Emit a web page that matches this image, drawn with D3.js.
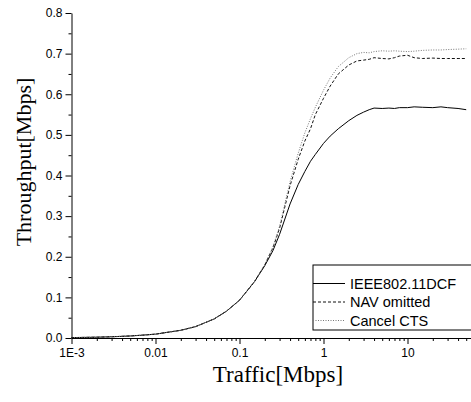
<!DOCTYPE html>
<html>
<head>
<meta charset="utf-8">
<script src="https://cdn.jsdelivr.net/npm/d3@7"></script>
<style>
body { margin: 0; background: #fff; }
svg { display: block; }
</style>
</head>
<body>
<svg width="471" height="402"></svg>
<script>
// offered traffic [Mbps]
var traffic = [0.001, 0.002, 0.003, 0.005, 0.007, 0.01, 0.02, 0.03, 0.05, 0.07, 0.1, 0.15, 0.2, 0.25,
	0.3, 0.4, 0.5, 0.6, 0.7, 0.8, 1.0, 1.2, 1.5, 2, 2.5, 3, 3.5, 4, 5, 6, 7, 8, 10, 12, 15, 20, 25, 30, 40, 50];

var dcf = [0.001, 0.002, 0.003, 0.005, 0.007, 0.0095, 0.019, 0.028, 0.047, 0.066, 0.093, 0.138, 0.178, 0.215,
	0.255, 0.33, 0.378, 0.41, 0.435, 0.452, 0.479, 0.497, 0.515, 0.535, 0.548, 0.556, 0.562, 0.566, 0.565, 0.566,
	0.565, 0.567, 0.567, 0.569, 0.568, 0.567, 0.569, 0.567, 0.565, 0.562];

var navOmitted = [0.001, 0.002, 0.003, 0.005, 0.007, 0.0095, 0.019, 0.028, 0.047, 0.066, 0.093, 0.138, 0.18, 0.222,
	0.27, 0.375, 0.44, 0.485, 0.515, 0.55, 0.59, 0.62, 0.65, 0.672, 0.682, 0.684, 0.686, 0.69, 0.688, 0.687,
	0.69, 0.694, 0.696, 0.69, 0.688, 0.689, 0.688, 0.688, 0.688, 0.688];

var cancelCts = [0.001, 0.002, 0.003, 0.005, 0.007, 0.0095, 0.019, 0.028, 0.047, 0.066, 0.093, 0.138, 0.181, 0.224,
	0.275, 0.385, 0.455, 0.505, 0.54, 0.568, 0.61, 0.64, 0.668, 0.69, 0.7, 0.703, 0.702, 0.705, 0.707, 0.706,
	0.707, 0.706, 0.705, 0.706, 0.708, 0.709, 0.709, 0.71, 0.711, 0.712];

var seriesNames = ["IEEE802.11DCF", "NAV omitted", "Cancel CTS"];
var xTickValues = [0.001, 0.01, 0.1, 1, 10];
var xTickLabels = ["1E-3", "0.01", "0.1", "1", "10"];

var svg = d3.select("svg");

var x = d3.scaleLog()
	.domain([0.001, 100])
	.range([71.5, 491.5]);

var y = d3.scaleLinear()
	.domain([0, 0.8])
	.range([338, 13]);

var styles = [
	{ stroke: "#000", dash: null },
	{ stroke: "#111", dash: "3,2" },
	{ stroke: "#777", dash: "1,1.5" }
];

var series = [dcf, navOmitted, cancelCts];

var line = d3.line()
	.x(function(d) { return x(d[0]); })
	.y(function(d) { return y(d[1]); });

series.forEach(function(s, i) {
	svg.append("path")
		.datum(traffic.map(function(t, j) { return [t, s[j]]; }))
		.attr("fill", "none")
		.attr("stroke", styles[i].stroke)
		.attr("stroke-width", 1)
		.attr("stroke-dasharray", styles[i].dash)
		.attr("d", line);
});

// minor ticks
var xMinor = [];
for (var e = -3; e <= 1; e++) {
	for (var k = 2; k <= 9; k++) xMinor.push(k * Math.pow(10, e));
}
svg.append("g")
	.attr("transform", "translate(0,338)")
	.call(d3.axisBottom(x).tickValues(xMinor).tickSize(3).tickFormat(""))
	.call(function(g) { g.select(".domain").remove(); });

svg.append("g")
	.attr("transform", "translate(71.5,0)")
	.call(d3.axisLeft(y).tickValues(d3.range(0.05, 0.8, 0.1)).tickSize(3).tickFormat(""))
	.call(function(g) { g.select(".domain").remove(); });

// major axes
var xAxis = svg.append("g")
	.attr("transform", "translate(0,338)")
	.call(d3.axisBottom(x).tickValues(xTickValues).tickSize(6).tickSizeOuter(0).tickPadding(4)
		.tickFormat(function(d, i) { return xTickLabels[i]; }));

var yAxis = svg.append("g")
	.attr("transform", "translate(71.5,0)")
	.call(d3.axisLeft(y).ticks(8).tickSize(6).tickSizeOuter(0).tickPadding(3).tickFormat(d3.format(".1f")));

[xAxis, yAxis].forEach(function(g) {
	g.attr("font-family", "'Liberation Sans', Arial, sans-serif").attr("font-size", 12);
});

// axis titles
svg.append("text")
	.attr("x", 278)
	.attr("y", 382)
	.attr("text-anchor", "middle")
	.style("font-family", "'Liberation Serif', 'Times New Roman', serif")
	.style("font-size", "23px")
	.text("Traffic[Mbps]");

svg.append("text")
	.attr("transform", "translate(31,162) rotate(-90)")
	.attr("text-anchor", "middle")
	.style("font-family", "'Liberation Serif', 'Times New Roman', serif")
	.style("font-size", "22px")
	.text("Throughput[Mbps]");

// legend
var legend = svg.append("g").attr("transform", "translate(313,265)");
legend.append("rect")
	.attr("width", 170)
	.attr("height", 65)
	.attr("fill", "#fff")
	.attr("stroke", "#000")
	.attr("stroke-width", 1);

var leg = legend.selectAll(".legend")
	.data(seriesNames)
	.enter().append("g")
	.attr("class", "legend")
	.attr("transform", function(d, i) { return "translate(0," + (18.5 + i * 18.5) + ")"; });

leg.append("line")
	.attr("x1", 0)
	.attr("x2", 32)
	.attr("stroke", function(d, i) { return styles[i].stroke; })
	.attr("stroke-dasharray", function(d, i) { return styles[i].dash; });

leg.append("text")
	.attr("x", 37)
	.attr("y", 5)
	.style("font-family", "'Liberation Sans', Arial, sans-serif")
	.style("font-size", "14.5px")
	.text(function(d) { return d; });
</script>
</body>
</html>
